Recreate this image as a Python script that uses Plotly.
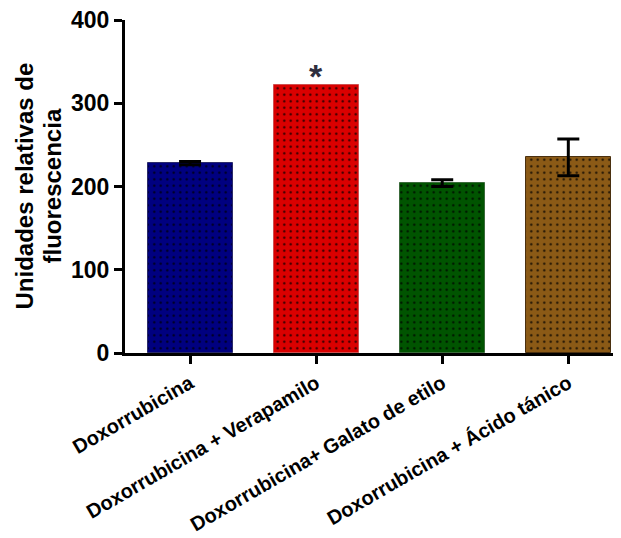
import plotly.graph_objects as go

categories = ["Doxorrubicina", "Doxorrubicina + Verapamilo", "Doxorrubicina+ Galato de etilo", "Doxorrubicina + Ácido tánico"]
values = [228, 322, 204, 235]
errors = [2, None, 4, 22]
colors = ["#000080", "#DA0000", "#005400", "#8B5A16"]
edge_colors = ["#2a2a6a", "#d05050", "#3a6a3a", "#4a3010"]
y_ticks = [0, 100, 200, 300, 400]
y_title_lines = ["Unidades relativas de", "fluorescencia"]

FONT = "Arial, Liberation Sans, sans-serif"
OFF = 8  # page body margin

fig = go.Figure()
for i, (cat, val, col, ec) in enumerate(zip(categories, values, colors, edge_colors)):
    fig.add_trace(go.Bar(
        x=[i], y=[val], name=cat,
        width=0.675,
        marker=dict(
            color=col,
            line=dict(color=ec, width=1),
            pattern=dict(shape=".", fillmode="overlay", bgcolor=col, fgcolor="#000000",
                         fgopacity=0.8, size=6.5, solidity=0.1),
        ),
        showlegend=False,
    ))
err_x = [i for i, e in enumerate(errors) if e is not None]
fig.add_trace(go.Scatter(
    x=err_x, y=[values[i] for i in err_x], mode="markers",
    marker=dict(size=0.1, color="black", opacity=0),
    error_y=dict(type="data", array=[errors[i] for i in err_x], visible=True, color="black", thickness=3, width=11),
    showlegend=False, hoverinfo="skip",
))

fig.add_annotation(x=1, y=values[1], text="<b>*</b>", showarrow=False, yanchor="bottom", yshift=-12,
                   font=dict(family=FONT, size=34, color="#2e2e3e"))

for line, px in zip(y_title_lines, [24, 52]):
    fig.add_annotation(xref="paper", yref="paper", x=0, y=0.5, xshift=px - 125, yshift=0,
                       text=f"<b>{line}</b>", textangle=-90, showarrow=False,
                       xanchor="center", yanchor="middle",
                       font=dict(family=FONT, size=24, color="black"))

fig.update_layout(
    width=621 - OFF, height=538 - OFF,
    margin=dict(l=125 - OFF, r=1, t=20 - OFF, b=185),
    plot_bgcolor="white", paper_bgcolor="white",
    barmode="overlay", bargap=0,
)
fig.update_xaxes(
    automargin=False,
    range=[-0.516, 3.41],
    tickmode="array", tickvals=list(range(len(categories))), ticktext=[f"<b>{c}</b>" for c in categories],
    tickangle=-30, ticklabeloverflow="allow",
    tickfont=dict(family=FONT, size=20, color="black"),
    showline=True, linecolor="black", linewidth=3,
    ticks="outside", ticklen=8, tickwidth=3, tickcolor="black",
    showgrid=False, zeroline=False,
)
fig.update_yaxes(
    automargin=False,
    range=[0, 400],
    tickmode="array", tickvals=y_ticks, ticktext=[f"<b>{t}</b>" for t in y_ticks],
    ticklabeloverflow="allow",
    tickfont=dict(family=FONT, size=23, color="black"),
    showline=True, linecolor="black", linewidth=3,
    ticks="outside", ticklen=8, tickwidth=3, tickcolor="black",
    showgrid=False, zeroline=False,
)

fig.write_html("out.html")
